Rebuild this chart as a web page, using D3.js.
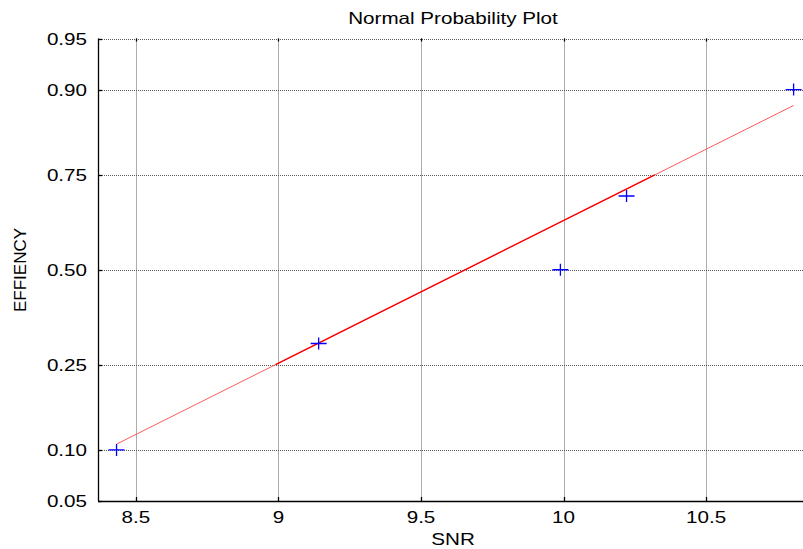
<!DOCTYPE html>
<html>
<head>
<meta charset="UTF-8">
<title>Normal Probability Plot</title>
<script src="https://d3js.org/d3.v7.min.js"></script>
<style>
  body { margin: 0; background: #fff; }
  text { font-family: "Liberation Sans", Arial, sans-serif; fill: #000; }
</style>
</head>
<body>
<div id="chart"></div>
<script>
// data
const snr = [8.432, 9.141, 9.989, 10.221, 10.807];
const efficiency = [0.10, 0.30, 0.50, 0.70, 0.90];
// reference line through the quartiles
const fitSnr = [8.99, 10.32];
const fitProb = [0.25, 0.75];
const xTicks = [8.5, 9, 9.5, 10, 10.5];
const yTicks = [0.05, 0.10, 0.25, 0.50, 0.75, 0.90, 0.95];

const width = 803, height = 549;
const margin = { top: 38.5, right: 0, bottom: 48, left: 98 };
const sx = 1.25; // horizontal stretch of the original figure text

// inverse normal cdf (Acklam)
function probit(p) {
  const a = [-39.69683028665376, 220.9460984245205, -275.9285104469687, 138.3577518672690, -30.66479806614716, 2.506628277459239];
  const b = [-54.47609879822406, 161.5858367580409, -155.6989798598866, 66.80131188771972, -13.28068155288572];
  const c = [-0.007784894002430293, -0.3223964580411365, -2.400758277161838, -2.549732539343734, 4.374664141464968, 2.938163982698783];
  const d = [0.007784695709041462, 0.3224671290700398, 2.445134137142996, 3.754408661907416];
  const pl = 0.02425;
  let q, r;
  if (p < pl) {
    q = Math.sqrt(-2 * Math.log(p));
    return (((((c[0]*q+c[1])*q+c[2])*q+c[3])*q+c[4])*q+c[5]) / ((((d[0]*q+d[1])*q+d[2])*q+d[3])*q+1);
  } else if (p <= 1 - pl) {
    q = p - 0.5; r = q * q;
    return (((((a[0]*r+a[1])*r+a[2])*r+a[3])*r+a[4])*r+a[5])*q / (((((b[0]*r+b[1])*r+b[2])*r+b[3])*r+b[4])*r+1);
  }
  q = Math.sqrt(-2 * Math.log(1 - p));
  return -(((((c[0]*q+c[1])*q+c[2])*q+c[3])*q+c[4])*q+c[5]) / ((((d[0]*q+d[1])*q+d[2])*q+d[3])*q+1);
}

const svg = d3.select("#chart").append("svg")
  .attr("width", width).attr("height", height);

const x = d3.scaleLinear().domain([8.367, 10.84]).range([margin.left, width - margin.right]);
const z = d3.scaleLinear().domain([probit(0.05), probit(0.95)]).range([height - margin.bottom, margin.top]);
const y = p => z(probit(p));

const x0 = margin.left, x1 = width - margin.right;
const y0 = height - margin.bottom, y1 = margin.top;

// grid
const grid = svg.append("g").attr("stroke", "#222").attr("stroke-width", 1)
  .attr("stroke-dasharray", "1,1").attr("opacity", 0.75);
grid.selectAll(".gx").data(xTicks).enter().append("line")
  .attr("x1", d => Math.round(x(d)) + 0.5).attr("x2", d => Math.round(x(d)) + 0.5)
  .attr("y1", y1).attr("y2", y0);
grid.selectAll(".gy").data(yTicks).enter().append("line")
  .attr("y1", d => Math.round(y(d)) + 0.5).attr("y2", d => Math.round(y(d)) + 0.5)
  .attr("x1", x0).attr("x2", x1);

// axes
const ax = svg.append("g").attr("stroke", "#000").attr("stroke-width", 1.3);
ax.append("line").attr("x1", x0).attr("x2", x1).attr("y1", y0 + 0.5).attr("y2", y0 + 0.5);
ax.append("line").attr("x1", x0 + 0.5).attr("x2", x0 + 0.5).attr("y1", y1).attr("y2", y0);
ax.selectAll(".tb").data(xTicks).enter().append("line")
  .attr("x1", d => Math.round(x(d)) + 0.5).attr("x2", d => Math.round(x(d)) + 0.5)
  .attr("y1", y0).attr("y2", y0 - 4);
ax.selectAll(".tt").data(xTicks).enter().append("line")
  .attr("x1", d => Math.round(x(d)) + 0.5).attr("x2", d => Math.round(x(d)) + 0.5)
  .attr("y1", y1).attr("y2", y1 + 3);
ax.selectAll(".tl").data(yTicks).enter().append("line")
  .attr("y1", d => Math.round(y(d)) + 0.5).attr("y2", d => Math.round(y(d)) + 0.5)
  .attr("x1", x0).attr("x2", x0 + 4);

function label(g, tx, ty, str, anchor, size) {
  return g.append("text")
    .attr("transform", `translate(${tx},${ty}) scale(${sx},1)`)
    .attr("text-anchor", anchor)
    .attr("font-size", size)
    .text(str);
}

svg.selectAll(".xl").data(xTicks).enter().each(function (d) {
  label(svg, x(d), y0 + 22, d3.format("")(d), "middle", 16.5);
});
svg.selectAll(".yl").data(yTicks).enter().each(function (d) {
  label(svg, x0 - 11, y(d) + 6, d3.format(".2f")(d), "end", 16.5);
});

label(svg, 453, 24, "Normal Probability Plot", "middle", 16.5);
label(svg, 453, 545, "SNR", "middle", 16.5);
svg.append("text")
  .attr("transform", `translate(26,270) rotate(-90)`)
  .attr("text-anchor", "middle").attr("font-size", 17)
  .text("EFFIENCY");

// fitted line, extended over data range
const slope = (probit(fitProb[1]) - probit(fitProb[0])) / (fitSnr[1] - fitSnr[0]);
const zAt = v => probit(fitProb[0]) + slope * (v - fitSnr[0]);
const ext = d3.extent(snr);
svg.append("line")
  .attr("x1", x(ext[0])).attr("y1", z(zAt(ext[0])))
  .attr("x2", x(ext[1])).attr("y2", z(zAt(ext[1])))
  .attr("stroke", "#ff5a5a").attr("stroke-width", 1);
svg.append("line")
  .attr("x1", x(fitSnr[0])).attr("y1", y(fitProb[0]))
  .attr("x2", x(fitSnr[1])).attr("y2", y(fitProb[1]))
  .attr("stroke", "#ff0000").attr("stroke-width", 1.4);

// data markers
svg.selectAll(".pt").data(snr).enter().append("path")
  .attr("transform", (d, i) => `translate(${x(d)},${y(efficiency[i])})`)
  .attr("d", "M-8,0H8M0,-6V6")
  .attr("stroke", "#0000ff").attr("stroke-width", 1.3).attr("fill", "none");
</script>
</body>
</html>
